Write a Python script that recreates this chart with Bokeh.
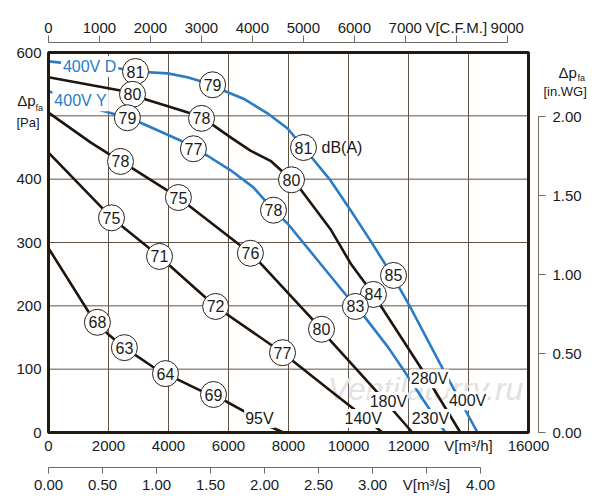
from bokeh.plotting import figure
from bokeh.models import LinearAxis, Range1d, FixedTicker, PrintfTickFormatter, Label, ColumnDataSource
from bokeh.core.properties import value
from bokeh.embed import file_html
from bokeh.resources import INLINE

M3H_PER_CFM = 1.699011
PA_PER_INWG = 249.089

# ---- fan curves: V [m3/h], dp_fa [Pa] ----
q_95 = [0, 1500, 1630, 1970, 2530, 3500, 3900, 5070, 5500, 6570, 7300, 7830]
p_95 = [291, 178, 174, 156, 134, 103, 93, 66, 60, 32, 11, 0]

q_140 = [0, 1800, 2100, 3700, 5570, 7800, 9400, 10230, 11130]
p_140 = [442, 354, 339, 278, 199, 126, 66, 35, 0]

q_180 = [0, 1400, 2400, 2800, 3970, 4330, 6730, 7070, 8730, 9100, 9400, 10970, 12130]
p_180 = [505, 458, 428, 417, 382, 371, 283, 267, 182, 163, 145, 63, 0]

q_230 = [0, 1500, 2630, 3070, 4400, 4830, 5300, 6070, 6830, 7500, 7970, 8970, 10230, 10500, 11330, 12070, 12500, 13230]
p_230 = [539, 512, 497, 489, 461, 448, 437, 414, 387, 351, 330, 272, 199, 185, 134, 82, 51, 0]

q_280 = [0, 2400, 2800, 3170, 4730, 5500, 6070, 6730, 7400, 8100, 8400, 9400, 10070, 10830, 12400, 13730]
p_280 = [561, 540, 534, 527, 504, 485, 466, 445, 429, 399, 384, 321, 267, 218, 103, 0]

q_400 = [0, 400, 2230, 2900, 3970, 4630, 5470, 5830, 6500, 7300, 7970, 8500, 9400, 10070, 10730, 11500, 12070, 13170, 14300]
p_400 = [586, 584, 576, 570, 567, 561, 549, 540, 527, 504, 480, 450, 398, 351, 303, 245, 197, 98, 0]

# ---- sound levels dB(A) in circles ----
db_q = [2900, 5470, 8500, 11500,
        2800, 5100, 8100, 10830,
        2630, 4830, 7500, 10230,
        2400, 4330, 6730, 9100,
        2100, 3700, 5570, 7800,
        1630, 2530, 3900, 5500]
db_p = [570, 549, 450, 248,
        534, 496, 399, 218,
        497, 448, 351, 199,
        428, 371, 283, 163,
        339, 278, 199, 126,
        174, 134, 93, 60]
db_txt = ["81", "79", "81", "85",
          "80", "78", "80", "84",
          "79", "77", "78", "83",
          "78", "75", "76", "80",
          "75", "71", "72", "77",
          "68", "63", "64", "69"]

# ---- voltage labels ----
v_q = [7030, 10490, 11330, 12730, 12700, 13970]
v_p = [22, 22, 49, 22, 85, 50]
v_txt = ["95V", "140V", "180V", "230V", "280V", "400V"]

# ---- tick definitions ----
m3h_ticks = [0, 2000, 4000, 6000, 8000, 10000, 12000, 14000, 16000]
pa_ticks = [0, 100, 200, 300, 400, 600]
grid_x = [2000, 4000, 6000, 8000, 10000, 12000, 14000]
grid_y = [100, 200, 300, 400, 500]
cfm_ticks = [0, 1000, 2000, 3000, 4000, 5000, 6000, 7000, 8000, 9000]
m3s_ticks = [0, 0.5, 1.0, 1.5, 2.0, 2.5, 3.0, 3.5, 4.0]
inwg_ticks = [0, 0.5, 1.0, 1.5, 2.0]

Q_MAX, P_MAX = 16000, 600

# page geometry: plot box 480 x 380 px at (48, 52) in a 600 x 500 canvas
PX_Q = Q_MAX / 480.0
PX_P = P_MAX / 380.0
XMIN, XMAX = -48 * PX_Q, (600 - 48) * PX_Q
YMIN, YMAX = -(500 - 432) * PX_P, 432 * PX_P

BLACK = "#1e150f"
BLUE = "#2a7cc7"
GRID = "#5e5248"
AXG = "#6e6a66"
FRAME = "#231a12"
FONT = "Liberation Sans"
TXT = "#1a1a1a"

p = figure(width=600, height=500, x_range=Range1d(XMIN, XMAX), y_range=Range1d(YMIN, YMAX),
           output_backend="svg", toolbar_location=None, min_border=0)
p.background_fill_color = "white"
p.border_fill_color = "white"
p.outline_line_color = None
p.xgrid.visible = False
p.ygrid.visible = False

def style_axis(ax, size="15px"):
    ax.major_label_text_font = FONT
    ax.major_label_text_font_size = size
    ax.major_label_text_color = TXT
    ax.minor_tick_line_color = None
    ax.minor_tick_out = 0
    ax.minor_tick_in = 0

# primary bottom (m3/h): labels only, along the plot box bottom
xa = p.xaxis[0]
xa.fixed_location = 0
xa.bounds = (0, Q_MAX)
xa.ticker = FixedTicker(ticks=m3h_ticks)
xa.major_label_overrides = {14000: "V[m³/h]"}
xa.axis_line_color = None
xa.major_tick_line_color = None
xa.major_tick_out = 0
xa.major_tick_in = 0
xa.major_label_standoff = 4
style_axis(xa)

# primary left (Pa): labels only
ya = p.yaxis[0]
ya.fixed_location = 0
ya.bounds = (0, P_MAX)
ya.ticker = FixedTicker(ticks=pa_ticks)
ya.axis_line_color = None
ya.major_tick_line_color = None
ya.major_tick_out = 0
ya.major_tick_in = 0
ya.major_label_standoff = 7
style_axis(ya)

# extra ranges
p.extra_x_ranges = {"cfm": Range1d(XMIN / M3H_PER_CFM, XMAX / M3H_PER_CFM),
                    "m3s": Range1d(XMIN / 3600.0, XMAX / 3600.0)}
p.extra_y_ranges = {"inwg": Range1d(YMIN / PA_PER_INWG, YMAX / PA_PER_INWG)}

# top CFM axis (10 px above the box)
cfm = LinearAxis(x_range_name="cfm", ticker=FixedTicker(ticks=cfm_ticks), bounds=(0, 9000),
                 fixed_location=P_MAX + 10 * PX_P)
cfm.major_label_overrides = {8000: "V[C.F.M.]"}
cfm.axis_line_color = AXG
cfm.major_tick_line_color = AXG
cfm.major_tick_out = 7
cfm.major_tick_in = 0
cfm.major_label_standoff = 0
style_axis(cfm)
p.add_layout(cfm, "above")

# bottom m3/s axis (35 px below the box)
m3s = LinearAxis(x_range_name="m3s", ticker=FixedTicker(ticks=m3s_ticks), bounds=(0, 4),
                 formatter=PrintfTickFormatter(format="%.2f"), fixed_location=-35 * PX_P)
m3s.major_label_overrides = {3.5: "V[m³/s]"}
m3s.axis_line_color = AXG
m3s.major_tick_line_color = AXG
m3s.major_tick_out = 6
m3s.major_tick_in = 0
m3s.major_label_standoff = 2
style_axis(m3s)
p.add_layout(m3s, "below")

# right in.WG axis (10 px right of the box)
inwg = LinearAxis(y_range_name="inwg", ticker=FixedTicker(ticks=inwg_ticks), bounds=(0, 2),
                  formatter=PrintfTickFormatter(format="%.2f"), fixed_location=Q_MAX + 10 * PX_Q)
inwg.axis_line_color = AXG
inwg.major_tick_line_color = AXG
inwg.major_tick_out = 7
inwg.major_tick_in = 0
inwg.major_label_standoff = 7
style_axis(inwg)
p.add_layout(inwg, "right")

# grid lines inside the box
p.segment(x0=grid_x, y0=[0] * len(grid_x), x1=grid_x, y1=[P_MAX] * len(grid_x),
          line_color=GRID, line_width=1)
p.segment(x0=[0] * len(grid_y), y0=grid_y, x1=[Q_MAX] * len(grid_y), y1=grid_y,
          line_color=GRID, line_width=1)

# watermark
p.text(x=[12570], y=[69], text=["Ventilatorry.ru"], text_font=value(FONT),
       text_font_style="italic", text_font_size="32px", text_color="#e2e2e2",
       text_align="center", text_baseline="middle")

# curves
for q, pr, col in [(q_95, p_95, BLACK), (q_140, p_140, BLACK), (q_180, p_180, BLACK),
                   (q_230, p_230, BLUE), (q_280, p_280, BLACK), (q_400, p_400, BLUE)]:
    p.line(q, pr, line_color=col, line_width=2.6, line_join="round")

# plot box
p.quad(left=[0], right=[Q_MAX], bottom=[0], top=[P_MAX], fill_color=None,
       line_color=FRAME, line_width=3)

# circles with dB values
dsrc = ColumnDataSource(dict(x=db_q, y=db_p, t=db_txt))
p.scatter("x", "y", source=dsrc, marker="circle", size=26, fill_color="white",
          line_color="#2a201a", line_width=1)
p.text("x", "y", text="t", source=dsrc, text_font=value(FONT), text_font_size="16px",
       text_color=TXT, text_align="center", text_baseline="middle")

# voltage labels
vsrc = ColumnDataSource(dict(x=v_q, y=v_p, t=v_txt))
p.text("x", "y", text="t", source=vsrc, text_font=value(FONT), text_font_size="16px",
       text_color=TXT, text_align="center", text_baseline="middle",
       background_fill_color="white", padding=1)

# series names
nsrc = ColumnDataSource(dict(x=[1370, 1070], y=[578, 524], t=["400V D", "400V Y"]))
p.text("x", "y", text="t", source=nsrc, text_font=value(FONT), text_font_size="16px",
       text_color=BLUE, text_align="center", text_baseline="middle",
       background_fill_color="white", padding=2)

p.text(x=[9100], y=[450], text=["dB(A)"], text_font=value(FONT), text_font_size="16px",
       text_color=TXT, text_align="left", text_baseline="middle")

# axis titles
def lab(x, y, t, size):
    p.add_layout(Label(x=x, y=y, text=t, text_font=FONT, text_font_size=size,
                       text_color=TXT, text_align="left", text_baseline="middle"))

lab(-1040, 524, "Δp", "15px")
lab(-430, 513, "fa", "9px")
lab(-1070, 489, "[Pa]", "13px")
lab(17000, 568, "Δp", "15px")
lab(17630, 559, "fa", "9px")
lab(16500, 538, "[in.WG]", "13px")

open("out.html", "w").write(file_html(p, INLINE))
